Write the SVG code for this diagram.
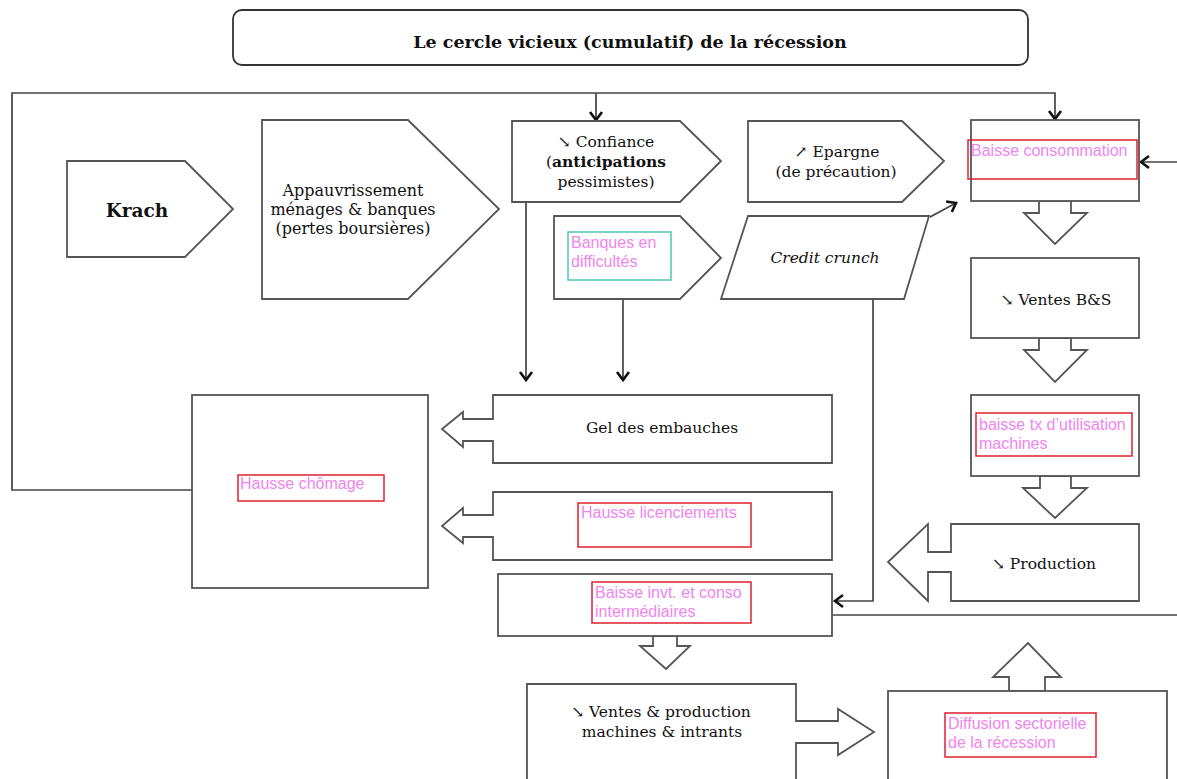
<svg xmlns="http://www.w3.org/2000/svg" width="1177" height="779" viewBox="0 0 1177 779">
<defs>
<marker id="arr" markerUnits="userSpaceOnUse" markerWidth="20" markerHeight="20" viewBox="-10 -10 20 20" refX="0" refY="0" orient="auto">
<path d="M-8,-6 L0,0 L-8,6" fill="none" stroke="#111" stroke-width="2.6" stroke-linejoin="miter"/>
</marker>
</defs>
<style>
.shape{fill:#fff;stroke:#555;stroke-width:1.8;stroke-linejoin:miter}
.conn{fill:none;stroke:#444;stroke-width:1.7}
.blk{fill:#fff;stroke:#555;stroke-width:1.8}
.serif{font-family:"DejaVu Serif","Liberation Serif",serif;font-size:15.5px;fill:#111;text-anchor:middle}
.bold{font-weight:bold}
.pink{font-family:"Liberation Sans",Arial,sans-serif;font-size:16px;fill:#ef85ef}
.red{fill:none;stroke:#e0202e;stroke-width:1.5}
.teal{fill:none;stroke:#4fc7b0;stroke-width:1.5}
</style>
<rect width="1177" height="779" fill="#fff"/>

<g id="title">
<rect x="233" y="10" width="795" height="55" rx="9" fill="#fff" stroke="#333" stroke-width="1.8"/>
<text class="serif bold" x="630" y="48" style="font-size:17.5px">Le cercle vicieux (cumulatif) de la récession</text>
</g>

<g id="connectors">
<polyline class="conn" points="192,490 12,490 12,93 1055,93 1055,119" marker-end="url(#arr)"/>
<line class="conn" x1="596" y1="93" x2="596" y2="120" marker-end="url(#arr)"/>
<line class="conn" x1="526" y1="202" x2="526" y2="380" marker-end="url(#arr)"/>
<line class="conn" x1="623" y1="299" x2="623" y2="380" marker-end="url(#arr)"/>
<line class="conn" x1="930" y1="217" x2="956" y2="203" marker-end="url(#arr)"/>
<polyline class="conn" points="873,299 873,601 835,601" marker-end="url(#arr)"/>
<line class="conn" x1="1177" y1="162" x2="1141" y2="162" marker-end="url(#arr)"/>
<line class="conn" x1="832" y1="615" x2="1177" y2="615"/>
<polygon class="blk" points="1039,201 1039,213 1024,213 1055,244 1087,213 1071,213 1071,201"/>
<polygon class="blk" points="1039,338 1039,350 1024,350 1055,382 1087,350 1071,350 1071,338"/>
<polygon class="blk" points="1040,476 1040,488 1023,488 1055,518 1087,488 1071,488 1071,476"/>
<polygon class="blk" points="653,636 653,646 640,646 666,669 690,646 677,646 677,636"/>
<polygon class="blk" points="1009,691 1009,677 993,677 1028,643 1061,677 1045,677 1045,691"/>
</g>

<g id="krach">
<polygon class="shape" points="67,161 185,161 233,209 185,257 67,257"/>
<text class="serif bold" x="137" y="217" style="font-size:18.5px">Krach</text>
</g>

<g id="appauvrissement">
<polygon class="shape" points="262,120 408,120 499,209 408,299 262,299"/>
<text class="serif" x="353" y="196" style="font-size:16px">Appauvrissement</text>
<text class="serif" x="353" y="215" style="font-size:16px">ménages &amp; banques</text>
<text class="serif" x="353" y="234" style="font-size:16px">(pertes boursières)</text>
</g>

<g id="confiance">
<polygon class="shape" points="512,121 680,121 721,161 680,202 512,202"/>
<text class="serif" x="606" y="147">↘ Confiance</text>
<text class="serif" x="606" y="167">(<tspan class="bold">anticipations</tspan></text>
<text class="serif" x="606" y="187">pessimistes)</text>
</g>

<g id="epargne">
<polygon class="shape" points="748,121 902,121 944,161 902,202 748,202"/>
<text class="serif" x="837" y="157">↗ Epargne</text>
<text class="serif" x="836" y="177">(de précaution)</text>
</g>

<g id="banques">
<polygon class="shape" points="554,216 680,216 721,258 680,299 554,299"/>
<rect class="teal" x="568" y="232" width="103" height="48"/>
<text class="pink" x="571" y="248">Banques en</text>
<text class="pink" x="571" y="267">difficultés</text>
</g>

<g id="credit-crunch">
<polygon class="shape" points="748,216 929,216 904,299 721,299"/>
<text class="serif" x="825" y="263" style="font-style:italic">Credit crunch</text>
</g>

<g id="baisse-consommation">
<rect class="shape" x="971" y="120" width="168" height="81"/>
<rect class="red" x="968" y="140" width="169" height="39"/>
<text class="pink" x="971" y="156">Baisse consommation</text>
</g>

<g id="ventes-bs">
<rect class="shape" x="971" y="258" width="168" height="80"/>
<text class="serif" x="1056" y="305">↘ Ventes B&amp;S</text>
</g>

<g id="baisse-tx">
<rect class="shape" x="971" y="395" width="168" height="81"/>
<rect class="red" x="976" y="413" width="156" height="43"/>
<text class="pink" x="979" y="430">baisse tx d’utilisation</text>
<text class="pink" x="979" y="449">machines</text>
</g>

<g id="production">
<polygon class="shape" points="951,524 1139,524 1139,601 951,601 951,572 928,572 928,601 888,562 928,524 928,552 951,552"/>
<text class="serif" x="1044" y="569">↘ Production</text>
</g>

<g id="hausse-chomage">
<rect class="shape" x="192" y="395" width="236" height="193"/>
<rect class="red" x="238" y="475" width="146" height="26"/>
<text class="pink" x="240" y="489">Hausse chômage</text>
</g>

<g id="gel-embauches">
<polygon class="shape" points="493,395 832,395 832,463 493,463 493,441 463,441 463,447 442,429 463,412 463,419 493,419"/>
<text class="serif" x="662" y="433">Gel des embauches</text>
</g>

<g id="hausse-licenciements">
<polygon class="shape" points="493,492 832,492 832,560 493,560 493,537 463,537 463,543 442,526 463,508 463,515 493,515"/>
<rect class="red" x="578" y="503" width="173" height="44"/>
<text class="pink" x="581" y="518">Hausse licenciements</text>
</g>

<g id="baisse-invt">
<rect class="shape" x="498" y="574" width="334" height="62"/>
<rect class="red" x="592" y="582" width="159" height="41"/>
<text class="pink" x="595" y="598">Baisse invt. et conso</text>
<text class="pink" x="595" y="617">intermédiaires</text>
</g>

<g id="ventes-production">
<polygon class="shape" points="527,684 796,684 796,721 838,721 838,709 874,732 838,755 838,743 796,743 796,800 527,800"/>
<text class="serif" x="661" y="717">↘ Ventes  &amp; production</text>
<text class="serif" x="662" y="737">machines &amp; intrants</text>
</g>

<g id="diffusion">
<rect class="shape" x="888" y="691" width="279" height="110"/>
<rect class="red" x="945" y="713" width="151" height="44"/>
<text class="pink" x="948" y="729">Diffusion sectorielle</text>
<text class="pink" x="948" y="748">de la récession</text>
</g>
</svg>
